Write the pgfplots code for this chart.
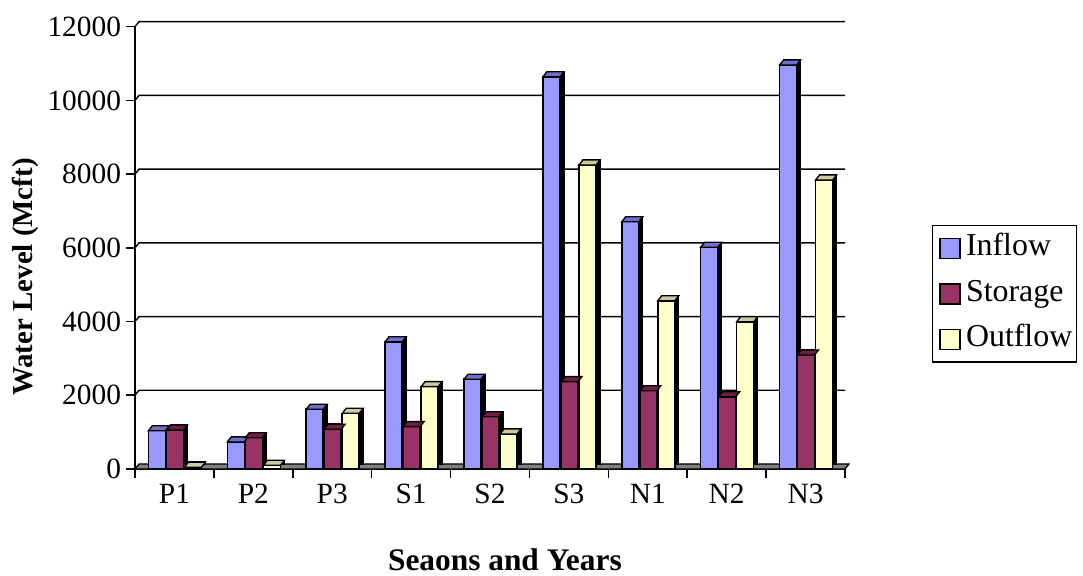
\documentclass[border=0pt]{standalone}
\usepackage{pgfplots}
\usepackage{pgfplotstable}
\pgfplotsset{compat=1.18}
\usepackage{fontspec}
\setmainfont{Liberation Serif}

\definecolor{inflowc}{HTML}{9999FF}
\definecolor{inflowtop}{HTML}{6E6ECC}
\definecolor{storagec}{HTML}{993366}
\definecolor{storagetop}{HTML}{6E1F48}
\definecolor{outflowc}{HTML}{FFFFCC}
\definecolor{outflowtop}{HTML}{CBCB9E}
\definecolor{floorgray}{HTML}{808080}

% water balance per season/year (Mcft)
\pgfplotstableread{
x  inflow storage outflow
0  1040   1060    50
1  735    850     100
2  1620   1080    1510
3  3450   1150    2235
4  2435   1420    950
5  10640  2370    8245
6  6710   2125    4565
7  6015   1960    3995
8  10960  3095    7840
}\waterdata

% top face of a 3-D column (front edge on the data point)
\pgfdeclareplotmark{colTop}{%
  \pgfpathmoveto{\pgfqpoint{-8.5bp}{0bp}}%
  \pgfpathlineto{\pgfqpoint{8.5bp}{0bp}}%
  \pgfpathlineto{\pgfqpoint{12.5bp}{5bp}}%
  \pgfpathlineto{\pgfqpoint{-4.5bp}{5bp}}%
  \pgfpathclose
  \pgfusepathqfillstroke}

\pgfplotsset{
  colside/.style={forget plot, ybar, bar width=17bp, fill=black, draw=black,
    line width=1.4bp, xshift=4bp, yshift=5bp},
  colfront/.style={ybar, bar width=17bp, fill=#1, draw=black, line width=1.6bp,
    legend image code/.code={\path (0bp,0bp) (28bp,0bp);
      \draw[fill=#1, draw=black, line width=1.6bp]
      (5bp,-10bp) rectangle (25bp,10bp);}},
  coltop/.style={forget plot, only marks, mark=colTop,
    mark options={fill=#1, draw=black, line width=1.3bp}},
}

\begin{document}
\begin{tikzpicture}
\useasboundingbox (0,0) rectangle (1083bp,576bp);
\begin{axis}[
  at={(135bp,107bp)}, anchor=south west,
  scale only axis, width=710bp, height=442.3bp,
  clip=false,
  xmin=-0.5, xmax=8.5, ymin=0, ymax=12000,
  axis x line*=bottom, axis y line*=left,
  x axis line style={-, line width=1.6bp},
  y axis line style={-, line width=1.6bp},
  tick align=outside,
  xtick={0,...,8},
  xticklabels={P1,P2,P3,S1,S2,S3,N1,N2,N3},
  major x tick style={draw=none},
  minor xtick={-0.5,0.5,...,8.5},
  ytick={0,2000,...,12000},
  major tick length=9bp, minor tick length=9bp,
  every tick/.style={black, line width=1.6bp},
  scaled y ticks=false,
  /pgf/number format/1000 sep={},
  /pgf/number format/assume math mode=true,
  tick label style={font=\fontsize{29.5}{31}\selectfont},
  xticklabel style={yshift=-3bp},
  yticklabel style={xshift=-1.5bp},
  xlabel={Seaons and Years},
  xlabel style={at={(axis description cs:0.521,-0.2295)}, anchor=base,
    inner sep=1bp, font=\bfseries\fontsize{31.5}{34}\selectfont},
  ylabel={Water Level (Mcft)},
  ylabel style={at={(axis description cs:-0.155,0.434)}, anchor=center,
    rotate=0, font=\bfseries\fontsize{29}{32}\selectfont},
  legend style={at={(axis description cs:1.1221,0.5517)}, anchor=north west,
    draw=black, line width=1.5bp, inner xsep=2bp, inner ysep=0bp,
    font=\fontsize{32}{34}\selectfont, row sep=0bp,
    nodes={inner xsep=2bp, inner ysep=0bp, text height=21bp, text depth=6bp,
      minimum height=45.5bp}},
  legend cell align=left,
]
% back-wall gridlines
\pgfplotsinvokeforeach{2000,4000,...,12000}{
  \draw[line width=1.4bp] (axis cs:-0.5,#1) -- ([shift={(4bp,5bp)}]axis cs:-0.5,#1)
    -- ([yshift=5bp]axis cs:8.5,#1);
}
% floor
\filldraw[fill=floorgray, draw=black, line width=1.2bp]
  (axis cs:-0.5,0) -- (axis cs:8.5,0) -- ([shift={(4bp,5bp)}]axis cs:8.5,0)
  -- ([shift={(4bp,5bp)}]axis cs:-0.5,0) -- cycle;

% Inflow
\addplot[colside, bar shift=-17.5bp] table[x=x, y=inflow] {\waterdata};
\addplot[colfront=inflowc, bar shift=-17.5bp] table[x=x, y=inflow] {\waterdata};
\addlegendentry{Inflow}
\addplot[coltop=inflowtop, xshift=-17.5bp] table[x=x, y=inflow] {\waterdata};
% Storage
\addplot[colside, bar shift=0.5bp] table[x=x, y=storage] {\waterdata};
\addplot[colfront=storagec, bar shift=0.5bp] table[x=x, y=storage] {\waterdata};
\addlegendentry{Storage}
\addplot[coltop=storagetop, xshift=0.5bp] table[x=x, y=storage] {\waterdata};
% Outflow
\addplot[colside, bar shift=18.5bp] table[x=x, y=outflow] {\waterdata};
\addplot[colfront=outflowc, bar shift=18.5bp] table[x=x, y=outflow] {\waterdata};
\addlegendentry{Outflow}
\addplot[coltop=outflowtop, xshift=18.5bp] table[x=x, y=outflow] {\waterdata};
\end{axis}
\end{tikzpicture}
\end{document}
